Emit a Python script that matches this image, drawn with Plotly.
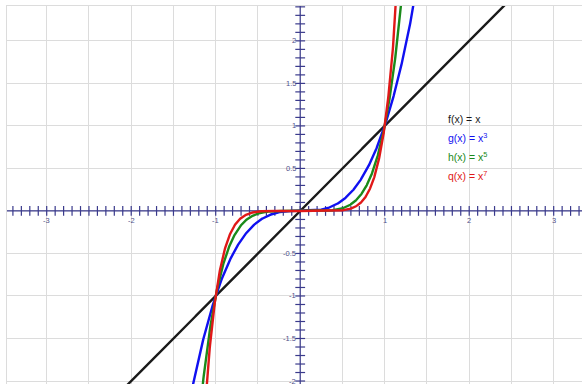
import numpy as np
import plotly.graph_objects as go

# ---- data ----
func_names = ["f(x) = x", "g(x) = x<sup>3</sup>", "h(x) = x<sup>5</sup>", "q(x) = x<sup>7</sup>"]
exponents = [1, 3, 5, 7]
colors = ["#1a1a1a", "#1010f0", "#1a8a1a", "#e01818"]
legend_y = [1.08, 0.865, 0.64, 0.42]
legend_x = 1.72

x_range = [-3.47, 3.335]
y_range = [-2.035, 2.41]

x_tick_labels = [-3, -2, -1, 1, 2, 3]
y_tick_labels = [-2, -1.5, -1, -0.5, 0.5, 1, 1.5, 2]
minor_step = 0.1

axis_color = "#3a3a8c"
label_color = "#50508a"

xs = np.linspace(x_range[0], x_range[1], 2001)

fig = go.Figure()

# axes lines
fig.add_trace(go.Scatter(x=x_range, y=[0, 0], mode="lines",
                         line=dict(color=axis_color, width=1.2), hoverinfo="skip"))
fig.add_trace(go.Scatter(x=[0, 0], y=y_range, mode="lines",
                         line=dict(color=axis_color, width=1.2), hoverinfo="skip"))

# minor ticks
xt = np.arange(np.ceil(x_range[0] / minor_step), np.floor(x_range[1] / minor_step) + 1) * minor_step
yt = np.arange(np.ceil(y_range[0] / minor_step), np.floor(y_range[1] / minor_step) + 1) * minor_step
fig.add_trace(go.Scatter(x=xt, y=np.zeros_like(xt), mode="markers",
                         marker=dict(symbol="line-ns-open", size=7, color=axis_color,
                                     line=dict(color=axis_color, width=1.2)),
                         cliponaxis=False, hoverinfo="skip"))
fig.add_trace(go.Scatter(x=np.zeros_like(yt), y=yt, mode="markers",
                         marker=dict(symbol="line-ew-open", size=7, color=axis_color,
                                     line=dict(color=axis_color, width=1.2)),
                         cliponaxis=False, hoverinfo="skip"))

# function curves
for n, c in zip(exponents, colors):
    fig.add_trace(go.Scatter(x=xs, y=xs ** n, mode="lines",
                             line=dict(color=c, width=2.4), hoverinfo="skip"))

# tick labels
for v in x_tick_labels:
    fig.add_annotation(x=v, y=0, text=str(v), showarrow=False,
                       xanchor="center", yanchor="top", yshift=-3,
                       font=dict(size=7.5, color=label_color, family="Arial"))
for v in y_tick_labels:
    fig.add_annotation(x=0, y=v, text=str(v), showarrow=False,
                       xanchor="right", yanchor="middle", xshift=-2,
                       font=dict(size=7.5, color=label_color, family="Arial"))

# legend labels
for name, c, ly in zip(func_names, colors, legend_y):
    fig.add_annotation(x=legend_x, y=ly, text=name, showarrow=False,
                       xanchor="left", yanchor="middle",
                       font=dict(size=10.5, color=c, family="Arial"))

grid = dict(showgrid=True, gridcolor="#dcdcdc", gridwidth=1, dtick=0.5, tick0=0,
            showticklabels=False, zeroline=False, ticks="",
            showline=True, linecolor="#dcdcdc", linewidth=1, mirror=True)

fig.update_xaxes(range=x_range, **grid)
fig.update_yaxes(range=y_range, **grid)

fig.update_layout(width=582, height=384, showlegend=False,
                  margin=dict(l=7, r=0, t=6, b=0, autoexpand=False),
                  plot_bgcolor="white", paper_bgcolor="white")

fig.write_html("out.html", config={"displayModeBar": False},
               post_script="document.body.style.margin='0';document.body.style.overflow='hidden';")
